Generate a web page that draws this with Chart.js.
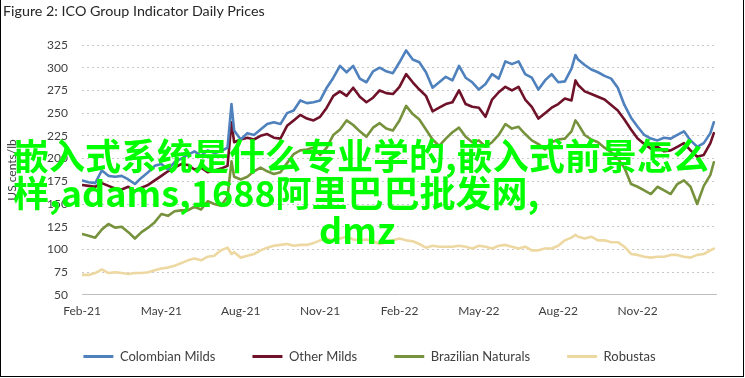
<!DOCTYPE html>
<html><head><meta charset="utf-8">
<script src="https://cdn.jsdelivr.net/npm/chart.js@4.4.1/dist/chart.umd.min.js"></script>
<style>
html,body{margin:0;padding:0;background:#fff;}
#wrap{position:relative;width:745px;height:378px;overflow:hidden;background:#fff;}
#frame{position:absolute;left:0;top:0;width:744px;height:377px;border-left:1px solid #000;border-right:1px solid #000;border-bottom:1px solid #000;box-sizing:border-box;pointer-events:none;}
#title{position:absolute;left:3px;top:2px;font-family:Lato,sans-serif;font-size:14.3px;color:#262626;white-space:nowrap;}
.ov{position:absolute;white-space:nowrap;font-family:'Noto Sans CJK SC',sans-serif;font-size:36px;line-height:36px;font-weight:bold;color:#00ff00;}
canvas{position:absolute;left:0;top:0;}
</style></head>
<body><div id="wrap"><canvas id="c" width="745" height="378"></canvas>
<div id="title">Figure 2: ICO Group Indicator Daily Prices</div>
<div class="ov" style="left:13px;top:136px">嵌入式系统是什么专业学的,嵌入式前景怎么</div>
<div class="ov" style="left:13px;top:173px">样,adams,1688阿里巴巴批发网,</div>
<div class="ov" style="left:319px;top:210px">dmz</div>
<div id="frame"></div>
</div>
<script>
// x positions: months elapsed since 1 Feb 2021
const months = [0,0.25,0.5,0.75,1,1.25,1.5,1.75,2,2.25,2.5,2.75,3,3.25,3.5,3.75,4,4.25,4.5,4.75,5,5.25,5.5,
  5.65,5.75,
  6,6.25,6.5,6.75,7,7.25,7.5,7.75,8,8.25,8.5,8.75,9,9.25,9.5,9.75,10,10.25,10.5,10.75,11,11.25,11.5,11.75,
  12,12.25,12.5,12.75,13,13.25,13.5,13.75,14,14.25,14.5,14.75,15,15.25,15.5,15.75,16,16.25,16.5,16.75,17,17.25,17.5,17.75,18,18.25,18.5,
  18.65,18.75,
  19,19.25,19.5,19.75,20,20.25,20.5,20.75,21,21.25,21.5,21.75,22,22.25,22.5,22.75,23,23.25,23.5,23.75,
  23.88];
const colombianMilds = [176,174,173,187,181,180,181,177,172,179,185,192,194,188,196,200,204,208,203,209,206,208,212,
  260,231,
  221,228,226,232,238,240,238,250,253,264,261,262,264,278,289,302,295,302,288,284,296,300,296,294,
  306,319,309,306,295,278,284,290,286,302,289,284,276,282,293,288,307,304,307,293,289,276,286,293,284,285,299,
  314,309,
  303,298,295,291,288,278,259,245,235,226,222,220,223,222,226,230,220,213,217,228,
  240];
const otherMilds = [171,170,169,173,170,167,166,169,164,168,171,176,181,186,190,194,193,188,190,185,187,189,192,
  240,218,
  221,223,221,225,227,223,222,236,242,248,244,242,246,256,269,274,269,278,268,262,267,275,272,271,
  279,293,284,276,269,252,256,260,262,275,260,257,256,246,265,273,279,275,279,265,257,244,250,256,260,266,264,
  286,281,
  274,271,268,265,259,253,243,232,222,216,211,213,208,209,213,217,209,202,204,217,
  228];
const brazilianNaturals = [117,115,113,122,128,124,125,119,112,119,124,130,139,137,142,143,143,147,144,153,150,148,158,
  197,180,
  177,180,186,190,186,183,185,195,205,209,210,212,204,212,226,232,242,237,230,224,234,239,233,231,
  242,258,249,243,232,221,214,222,229,234,224,218,220,213,218,226,238,233,235,227,220,216,210,218,221,222,230,
  242,238,
  226,221,218,212,207,200,190,172,169,165,161,169,165,161,172,176,169,150,170,182,
  196];
const robustas = [72,72,74,78,74,75,74,73,74,74,75,77,79,80,82,85,88,90,88,92,93,99,102,
  95,97,
  91,93,95,99,102,104,105,106,104,105,105,107,110,112,110,112,114,111,110,111,109,106,108,110,
  112,110,109,106,102,104,103,103,103,104,103,101,104,103,101,104,105,103,101,103,99,99,101,101,104,110,113,
  116,114,
  112,114,110,110,108,108,103,95,94,92,91,92,92,94,94,92,91,94,95,99,
  101];
const tickMonths = [0,3,6,9,12,15,18,21];
const tickLabels = ['Feb-21','May-21','Aug-21','Nov-21','Feb-22','May-22','Aug-22','Nov-22'];

const seriesNames = ['Colombian Milds','Other Milds','Brazilian Naturals','Robustas'];
const seriesData = [colombianMilds, otherMilds, brazilianNaturals, robustas];
const seriesColors = ['#4F81BD','#6F1128','#76923C','#EDD8A2'];

const datasets = seriesNames.map((n,k)=>({
  label:n,
  data: months.map((m,i)=>({x:m,y:seriesData[k][i]})),
  borderColor: seriesColors[k],
  backgroundColor: seriesColors[k],
  borderWidth: 2.6,
  borderJoinStyle: 'round',
  borderCapStyle: 'round',
  pointRadius: 0,
  pointHoverRadius: 0,
  tension: 0
}));

// nudges the bottom legend up a little so it sits closer to the axis labels
const legendNudge = {id:'legendNudge', afterLayout(chart){ const l = chart.legend; if (l) { l.top -= 5; l.bottom -= 5; } }};

const tickFont = {family:'Lato', size:12};
new Chart(document.getElementById('c'), {
  type:'line',
  data:{datasets},
  plugins:[legendNudge],
  options:{
    responsive:false, animation:false, devicePixelRatio:1,
    events:[],
    elements:{point:{radius:0}},
    layout:{padding:{left:0,right:6,top:45,bottom:0}},
    plugins:{
      legend:{position:'bottom', labels:{boxWidth:30, boxHeight:3, padding:37, font:{family:'Lato',size:13}, color:'#404040',
        generateLabels:(chart)=>Chart.defaults.plugins.legend.labels.generateLabels(chart).map(l=>({...l,lineWidth:0}))}},
      tooltip:{enabled:false}
    },
    scales:{
      x:{type:'linear', min:0, max:24,
        afterBuildTicks:(s)=>{ s.ticks = tickMonths.map(v=>({value:v})); },
        ticks:{autoSkip:false, maxRotation:0, padding:7, font:{family:'Lato', size:12, lineHeight:0.01}, color:'#404040',
          callback:(v,i)=>tickLabels[i]},
        grid:{display:false, drawTicks:true, tickLength:9},
        border:{display:false}
      },
      y:{min:50, max:325,
        afterFit:(s)=>{ s.width = 82; },
        ticks:{stepSize:25, padding:14, font:tickFont, color:'#404040'},
        grid:{drawTicks:false, color:(c)=> c.tick && c.tick.value===50 ? '#BFBFBF' : '#C8C8C8', lineWidth:1},
        border:{display:false, dash:(c)=> c.tick && c.tick.value===50 ? [] : [2,3]},
        title:{display:true, text:'US cents/lb', font:tickFont, color:'#404040', padding:{top:5,bottom:0}}
      },
      yr:{position:'right', display:true, min:50, max:325,
        afterFit:(s)=>{ s.width = 22; },
        ticks:{display:false}, grid:{display:false, drawTicks:false}, border:{display:false}
      }
    }
  }
});
</script>
</body></html>
